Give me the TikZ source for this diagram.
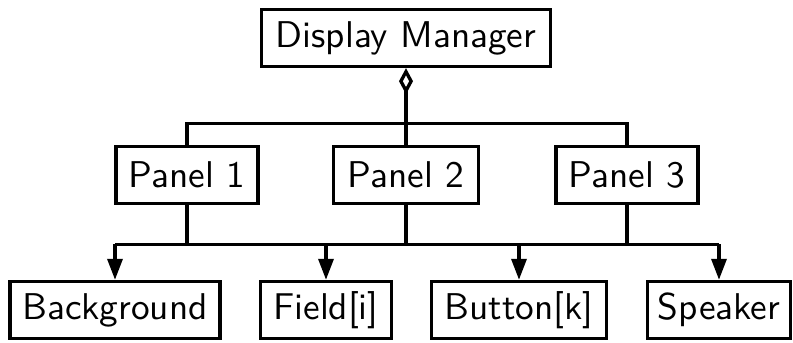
\documentclass[tikz,border=0pt]{standalone}
\usepackage{tikz}
\usetikzlibrary{arrows.meta}

\begin{document}
\begin{tikzpicture}[
 x=0.01cm, y=-0.01cm,
 box/.style={rectangle, draw, line width=0.95pt, inner sep=0pt, minimum height=0.57cm, font=\fontsize{10.6}{12}\selectfont\sffamily},
 wire/.style={line width=0.95pt},
 arr/.style={-{Triangle[length=0.21cm,width=0.15cm]}, line width=0.95pt},
 agg/.style={{Diamond[open,length=0.26cm,width=0.14cm]}-, line width=0.95pt},
]
\useasboundingbox (0,0) rectangle (793,342);

\node[box, minimum width=2.89cm] (dm) at (406,38) {Display Manager};

\node[box, minimum width=1.42cm] (p1) at (187,175) {Panel 1};
\node[box, minimum width=1.45cm] (p2) at (406,175) {Panel 2};
\node[box, minimum width=1.42cm] (p3) at (627,175) {Panel 3};

\node[box, minimum width=2.10cm] (bg) at (115,310) {Background};
\node[box, minimum width=1.31cm] (fd) at (326,310) {Field[i]};
\node[box, minimum width=1.75cm] (bt) at (519,310) {Button[k]};
\node[box, minimum width=1.43cm] (sp) at (719,310) {Speaker};

% aggregation
\draw[agg] (dm) -- (p2);
\draw[wire] (p1.north) -- ++(0,-21) -| (p3.north);

% panels to bus
\draw[wire] (p1.south) -- ++(0,39) coordinate (b1);
\draw[wire] (p2.south) -- ++(0,39) coordinate (b2);
\draw[wire] (p3.south) -- ++(0,39) coordinate (b3);
\draw[wire] (bg |- b1) -- (sp |- b1);

% bus to widgets
\foreach \n in {bg,fd,bt,sp}
  \draw[arr] (\n |- b1) -- (\n);

\end{tikzpicture}
\end{document}
